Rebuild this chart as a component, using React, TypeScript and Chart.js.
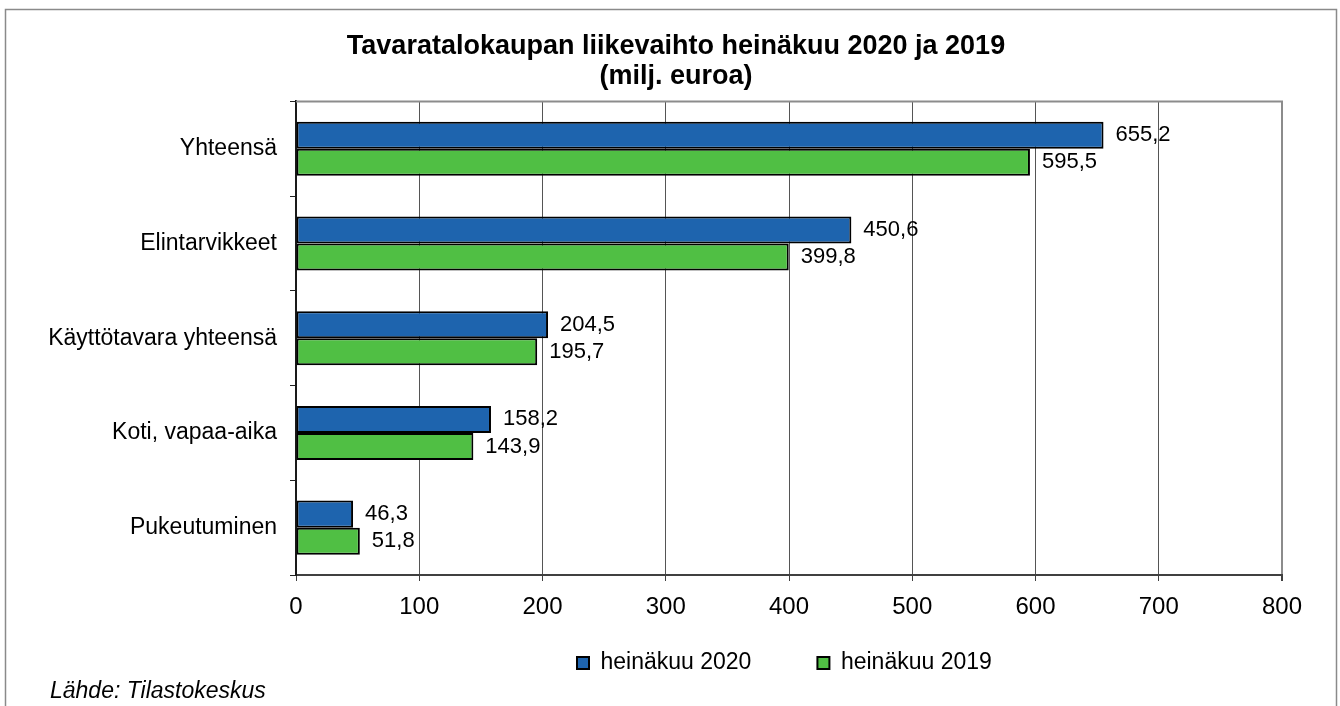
import React, { useEffect, useRef } from 'react';
import { Chart, registerables } from 'chart.js';

Chart.register(...registerables);

const categories = ['Yhteensä', 'Elintarvikkeet', 'Käyttötavara yhteensä', 'Koti, vapaa-aika', 'Pukeutuminen'];
const values2020 = [655.2, 450.6, 204.5, 158.2, 46.3];
const values2019 = [595.5, 399.8, 195.7, 143.9, 51.8];
const seriesNames = ['heinäkuu 2020', 'heinäkuu 2019'];
const titleLines = ['Tavaratalokaupan liikevaihto heinäkuu 2020 ja 2019', '(milj. euroa)'];
const sourceText = 'Lähde: Tilastokeskus';
const xMin = 0;
const xMax = 800;
const xStep = 100;

const FONT = "'Liberation Sans', Arial, Helvetica, sans-serif";

const chromePlugin = {
  id: 'chrome',
  beforeDraw(chart: any) {
    const ctx = chart.ctx;
    ctx.save();
    ctx.fillStyle = '#ffffff';
    ctx.fillRect(0, 0, chart.width, chart.height);
    ctx.strokeStyle = '#8a8a8a';
    ctx.lineWidth = 1.5;
    ctx.beginPath();
    ctx.moveTo(5.5, chart.height + 5);
    ctx.lineTo(5.5, 9.5);
    ctx.lineTo(1336.5, 9.5);
    ctx.lineTo(1336.5, chart.height + 5);
    ctx.stroke();
    ctx.restore();
  },
  afterLayout(chart: any) {
    const lg = chart.legend;
    if (lg) {
      const pad = lg.options.labels.padding;
      lg.left = 577 - pad;
      lg.top = 663 - pad - 11.5;
    }
    const tb = chart.titleBlock;
    if (tb) {
      tb.left = 70;
      tb.right = 1282;
    }
  },
  beforeDatasetsDraw(chart: any) {
    const { ctx, chartArea } = chart;
    ctx.save();
    ctx.strokeStyle = '#8c8c8c';
    ctx.lineWidth = 2;
    ctx.beginPath();
    ctx.moveTo(chartArea.left, chartArea.top);
    ctx.lineTo(chartArea.right + 1, chartArea.top);
    ctx.stroke();
    ctx.restore();
  },
  afterDatasetsDraw(chart: any) {
    const ctx = chart.ctx;
    ctx.save();
    ctx.fillStyle = '#000000';
    ctx.font = `22px ${FONT}`;
    ctx.textAlign = 'left';
    ctx.textBaseline = 'middle';
    chart.data.datasets.forEach((ds: any, di: number) => {
      const meta = chart.getDatasetMeta(di);
      meta.data.forEach((bar: any, i: number) => {
        const v = ds.data[i] as number;
        ctx.fillText(v.toFixed(1).replace('.', ','), bar.x + 12, bar.y);
      });
    });
    ctx.font = `italic 23px ${FONT}`;
    ctx.textBaseline = 'alphabetic';
    ctx.fillText(sourceText, 50, 698);
    ctx.restore();
  },
};

export default function App() {
  const canvasRef = useRef<HTMLCanvasElement | null>(null);

  useEffect(() => {
    if (!canvasRef.current) return;
    const chart = new Chart(canvasRef.current, {
      type: 'bar',
      data: {
        labels: categories,
        datasets: [
          {
            label: seriesNames[0],
            data: values2020,
            backgroundColor: '#1E64AE',
            borderColor: '#000000',
            borderWidth: 2,
            borderSkipped: false,
          },
          {
            label: seriesNames[1],
            data: values2019,
            backgroundColor: '#50BF44',
            borderColor: '#000000',
            borderWidth: 2,
            borderSkipped: false,
          },
        ],
      },
      options: {
        indexAxis: 'y',
        responsive: false,
        animation: false,
        devicePixelRatio: 1,
        layout: { padding: { left: 0, right: 58, top: 0, bottom: 0 } },
        datasets: {
          bar: { barPercentage: 1, categoryPercentage: 0.571 },
        },
        scales: {
          x: {
            type: 'linear',
            min: xMin,
            max: xMax,
            ticks: {
              stepSize: xStep,
              color: '#000000',
              font: { family: FONT, size: 24 },
              padding: 12,
            },
            grid: {
              color: (c: any) =>
                c.index === 0 ? 'rgba(0,0,0,0)' : c.tick && c.tick.value === xMax ? '#8c8c8c' : '#555555',
              lineWidth: (c: any) => (c.tick && c.tick.value === xMax ? 2 : 1),
              drawTicks: true,
              tickLength: 6,
              tickColor: '#404040',
            },
            border: { display: true, color: '#404040', width: 2 },
            afterFit: (scale: any) => {
              scale.height = 91;
            },
          },
          y: {
            type: 'category',
            ticks: {
              color: '#000000',
              font: { family: FONT, size: 23 },
              padding: 13,
            },
            grid: {
              display: true,
              drawOnChartArea: false,
              drawTicks: true,
              tickLength: 6,
              tickColor: '#222222',
              offset: true,
            },
            border: { display: true, color: '#1a1a1a', width: 2 },
            afterFit: (scale: any) => {
              scale.width = 296;
            },
          },
        },
        plugins: {
          title: {
            display: true,
            text: titleLines,
            color: '#000000',
            font: { family: FONT, size: 27, weight: 'bold', lineHeight: 1.12 },
            padding: { top: 31, bottom: 10 },
          },
          legend: {
            display: true,
            position: 'bottom',
            align: 'start',
            maxHeight: 40,
            labels: {
              color: '#000000',
              font: { family: FONT, size: 23 },
              boxWidth: 12,
              boxHeight: 12,
              padding: 66,
            },
          },
          tooltip: { enabled: false },
        },
      },
      plugins: [chromePlugin],
    } as any);
    return () => chart.destroy();
  }, []);

  return (
    <div style={{ position: 'absolute', left: 0, top: 0, width: 1340, height: 706 }}>
      <canvas ref={canvasRef} width={1340} height={706} style={{ display: 'block' }} />
    </div>
  );
}
